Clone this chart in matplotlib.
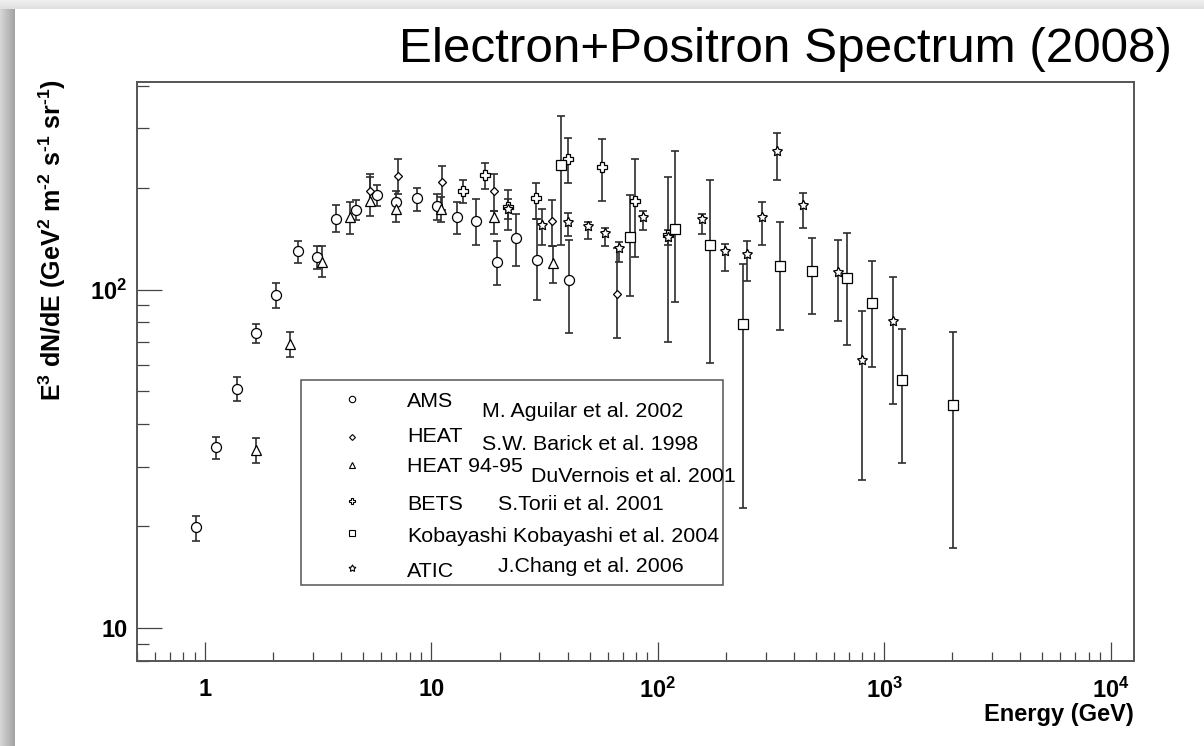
import numpy as np
import matplotlib
matplotlib.use('Agg')
import matplotlib.pyplot as plt
from matplotlib.ticker import FixedLocator, FixedFormatter, LogLocator, NullFormatter
from matplotlib.patches import Rectangle
from matplotlib.lines import Line2D

# ---------------- data ----------------
ams_E = [0.915, 1.115, 1.381, 1.676, 2.047, 2.56, 3.11, 3.79, 4.66, 5.75, 6.98, 8.61, 10.6, 12.9, 15.8, 19.4, 23.7, 29.2, 40.4]
ams_F = [19.9, 34.3, 50.9, 74.3, 96.5, 129.7, 124.5, 161.6, 171.8, 190.2, 181.7, 186.4, 177, 163.4, 159, 120.9, 141.7, 122.3, 107]
ams_hi = [21.4, 36.8, 55.1, 79.2, 104.4, 139.5, 134, 177.1, 183.5, 203, 196, 200, 192, 181, 185, 139.5, 167, 161.6, 140]
ams_lo = [18.1, 31.6, 46.8, 69.6, 88.3, 119.6, 115, 148.2, 160.6, 177, 168, 170, 160, 146, 135, 103, 117, 93, 74.3]

heat_E = [5.37, 7.13, 11.1, 18.8, 34.2, 65.8]
heat_F = [195.5, 216.4, 208, 194.9, 159, 97.1]
heat_hi = [215, 243, 231, 219, 184, 133]
heat_lo = [178, 192, 172, 171, 134, 72]

heat9495_E = [1.67, 2.37, 3.28, 4.37, 5.37, 6.98, 11.0, 18.8, 34.6]
heat9495_F = [33.5, 68.9, 120.9, 163.4, 183, 172.9, 172.9, 163.4, 119.5]
heat9495_hi = [36.5, 74.8, 134.8, 181, 219.6, 183.5, 187, 171, 134]
heat9495_lo = [30.8, 63.2, 108.7, 146, 165.3, 158, 158, 146, 104.4]

bets_E = [13.77, 17.2, 21.8, 28.9, 40.1, 56.7, 79.4, 111]
bets_F = [195.5, 218.4, 175, 186, 243, 230.6, 183, 145]
bets_hi = [210, 237, 197, 207, 280, 278, 243, 215]
bets_lo = [180, 198, 150, 161, 207, 183, 124.5, 69.8]

koba_E = [37.5, 75.1, 118.7, 169.6, 238.6, 345, 478, 684, 888, 1201, 2013]
koba_F = [233.8, 142.7, 151, 135.8, 79.2, 117.7, 113.2, 108, 91.4, 54.1, 45.5]
koba_hi = [326, 190, 257, 210, 119, 158, 141.7, 147, 121.5, 76.6, 74.7]
koba_lo = [135.6, 95.6, 91.7, 60.8, 22.6, 76, 84.4, 68.7, 59, 30.7, 17.2]

atic_E = [21.8, 30.9, 40.1, 49.2, 58.5, 67.1, 86.2, 111, 156, 198.8, 247.7, 290, 335, 438, 627, 801, 1091]
atic_F = [172.9, 155.5, 157.9, 153.7, 146.5, 132.7, 163.4, 142.7, 161.6, 129.7, 127.4, 163.4, 257, 178, 113, 61.8, 81]
atic_hi = [185, 172.6, 168.4, 158, 151.6, 137.9, 171, 150, 167, 136.4, 139.5, 181, 289, 193, 140.4, 86.3, 108.7]
atic_lo = [162, 135.7, 144, 141, 134, 120.4, 150, 135, 146, 113.8, 106.3, 135.7, 211, 151.5, 80.5, 27.3, 46]

names = ['AMS', 'HEAT', 'HEAT 94-95', 'BETS', 'Kobayashi', 'ATIC']
refs = ['M. Aguilar et al. 2002', 'S.W. Barick et al. 1998', 'DuVernois et al. 2001',
        'S.Torii et al. 2001', 'Kobayashi et al. 2004', 'J.Chang et al. 2006']

x_ticks = [1, 10, 100, 1000, 10000]
x_labels = ['1', '10', r'$10^{2}$', r'$10^{3}$', r'$10^{4}$']
y_ticks = [10, 100]
y_labels = ['10', r'$10^{2}$']

title = 'Electron+Positron Spectrum (2008)'
xlabel = 'Energy (GeV)'
ylabel = r'E$^{3}$ dN/dE (GeV$^{2}$ m$^{\text{-}2}$ s$^{\text{-}1}$ sr$^{\text{-}1}$)'

# ---------------- style ----------------
plt.rcParams['font.family'] = ['Liberation Sans', 'DejaVu Sans']
plt.rcParams['mathtext.fontset'] = 'custom'
plt.rcParams['mathtext.rm'] = 'Liberation Sans:bold'
plt.rcParams['mathtext.bf'] = 'Liberation Sans:bold'
plt.rcParams['mathtext.it'] = 'Liberation Sans:bold'
plt.rcParams['mathtext.default'] = 'bf'

W, H = 1204, 746
fig = plt.figure(figsize=(W / 100, H / 100), dpi=100)
fig.patch.set_facecolor('white')

# screenshot-like shadow on left and top
left = np.linspace(0.84, 0.64, 15)
left_img = np.ones((H, 15, 3)) * left[None, :, None]
fig.figimage(left_img, xo=0, yo=0, origin='upper', zorder=0)
top = np.linspace(0.94, 0.88, 9)
top_img = np.ones((9, W, 3)) * top[:, None, None]
fig.figimage(top_img, xo=0, yo=H - 9, origin='upper', zorder=0)

L, R, T, B = 137, 1134, 82, 661
ax = fig.add_axes([L / W, 1 - B / H, (R - L) / W, (B - T) / H])
ax.set_xscale('log')
ax.set_yscale('log')
ax.set_xlim(0.5, 12700)
ax.set_ylim(8, 410)

ecol = '#2e2e2e'
series = [
    (ams_E, ams_F, ams_hi, ams_lo, 'o', 7.2),
    (heat_E, heat_F, heat_hi, heat_lo, 'D', 4.0),
    (heat9495_E, heat9495_F, heat9495_hi, heat9495_lo, '^', 7.8),
    (bets_E, bets_F, bets_hi, bets_lo, 'P', 7.5),
    (koba_E, koba_F, koba_hi, koba_lo, 's', 7.4),
    (atic_E, atic_F, atic_hi, atic_lo, (5, 1, 0), 7.5),
]
for E, F, hi, lo, mk, ms in series:
    E = np.array(E); F = np.array(F); hi = np.array(hi); lo = np.array(lo)
    ax.errorbar(E, F, yerr=[F - lo, hi - F], fmt='none', ecolor=ecol,
                elinewidth=1.2, capsize=3.0, capthick=1.2, zorder=2)
    ax.plot(E, F, ls='none', marker=mk, ms=ms, mfc='white', mec='black',
            mew=0.9, zorder=3)

# axes styling
for s in ax.spines.values():
    s.set_color('#555555')
    s.set_linewidth(1.4)
ax.xaxis.set_major_locator(FixedLocator(x_ticks))
ax.xaxis.set_major_formatter(FixedFormatter(x_labels))
ax.xaxis.set_minor_locator(LogLocator(base=10, subs=np.arange(2, 10)))
ax.xaxis.set_minor_formatter(NullFormatter())
ax.yaxis.set_major_locator(FixedLocator(y_ticks))
ax.yaxis.set_major_formatter(FixedFormatter(y_labels))
ax.yaxis.set_minor_locator(LogLocator(base=10, subs=np.arange(2, 10)))
ax.yaxis.set_minor_formatter(NullFormatter())
ax.tick_params(which='both', direction='in', top=False, right=False,
               color='#444444', width=0.9)
ax.tick_params(axis='x', which='major', length=13.7, pad=12, labelsize=17)
ax.tick_params(axis='x', which='minor', length=6.8)
ax.tick_params(axis='y', which='major', length=18, pad=7, labelsize=17)
ax.tick_params(axis='y', which='minor', length=8.6)
for lab in ax.get_xticklabels() + ax.get_yticklabels():
    lab.set_fontweight('bold')

ax.set_xlabel(xlabel, fontsize=17, fontweight='bold')
ax.xaxis.label.set_ha('right')
ax.xaxis.label.set_va('center')
ax.xaxis.set_label_coords(1.0, (B - 715) / (B - T))
ax.set_ylabel(ylabel, fontsize=18, fontweight='bold')
ax.yaxis.label.set_va('center')
ax.yaxis.set_label_coords((52 - L) / (R - L), (B - 240) / (B - T))

fig.text(1172 / W, 1 - 62 / H, title, ha='right', va='baseline', fontsize=35.6)

# legend box (manual layout to mimic ROOT TLegend)
fig.patches.append(Rectangle((301 / W, 1 - 585 / H), (723 - 301) / W, (585 - 380) / H,
                             transform=fig.transFigure, facecolor='white',
                             edgecolor='#555555', linewidth=1.1, zorder=5))
mk_y = [399, 437, 465, 501, 533, 568]
t1_y = [399, 434, 464, 502, 534, 569]
t2_y = [409, 442, 474, 502, 534, 564]
t2_x = [482, 482, 531, 498, 513, 498]
leg_ms = [4.6, 3.0, 4.8, 5.0, 4.6, 5.2]
cap = 0.716 * 21.4 / 2
for i, (E, F, hi, lo, mk, ms) in enumerate(series):
    fig.lines.append(Line2D([352 / W], [1 - mk_y[i] / H], transform=fig.transFigure,
                            ls='none', marker=mk, ms=leg_ms[i], mfc='white',
                            mec='black', mew=0.8, zorder=6))
    fig.text(407 / W, 1 - (t1_y[i] + cap) / H, names[i], ha='left', va='baseline',
             fontsize=15.4, zorder=6)
    fig.text(t2_x[i] / W, 1 - (t2_y[i] + cap) / H, refs[i], ha='left', va='baseline',
             fontsize=15.4, zorder=6)

fig.savefig('out.png', dpi=100)
